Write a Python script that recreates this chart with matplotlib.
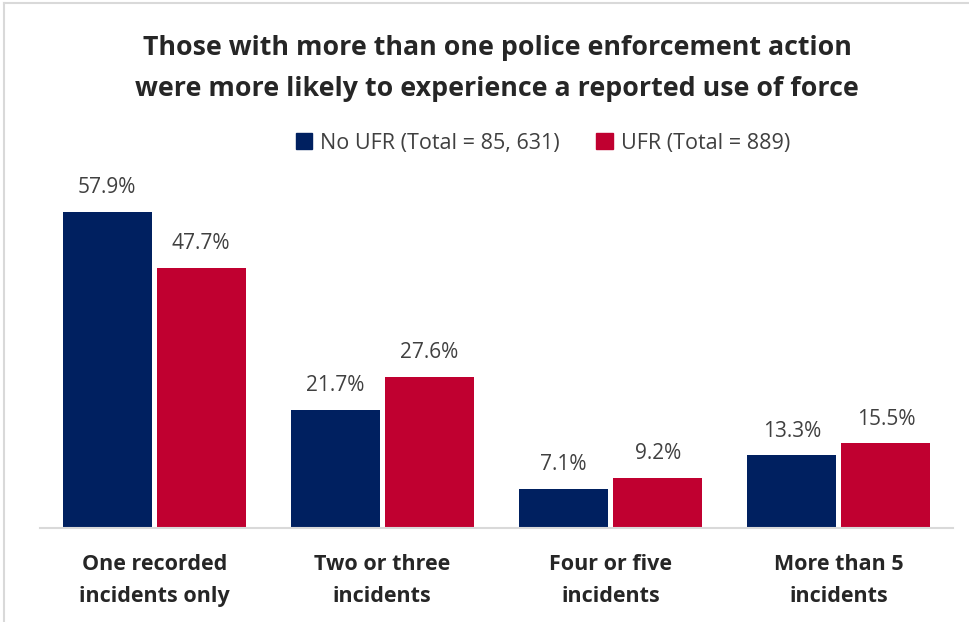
import matplotlib
matplotlib.use("Agg")
import matplotlib.pyplot as plt
import numpy as np
from matplotlib.lines import Line2D
from matplotlib.patches import Patch

categories = ["One recorded\nincidents only", "Two or three\nincidents", "Four or five\nincidents", "More than 5\nincidents"]
no_ufr = [57.9, 21.7, 7.1, 13.3]
ufr = [47.7, 27.6, 9.2, 15.5]
series_names = ["No UFR (Total = 85, 631)", "UFR (Total = 889)"]
title = "Those with more than one police enforcement action\nwere more likely to experience a reported use of force"

navy = "#002060"
red = "#C00030"
gray = "#404040"
font = "Open Sans"

W, H = 969, 622
fig = plt.figure(figsize=(W / 100, H / 100), dpi=100)
fig.patch.set_facecolor("white")

ax_left, ax_right, ax_bottom, ax_top = 40, 953, 528, 170
ax = fig.add_axes([ax_left / W, (H - ax_bottom) / H, (ax_right - ax_left) / W, (ax_bottom - ax_top) / H])
ymax = (ax_bottom - ax_top) / 5.458

x = np.arange(len(categories))
w = 0.39
off = w / 2 + 0.011
b1 = ax.bar(x - off, no_ufr, w, color=navy)
b2 = ax.bar(x + off, ufr, w, color=red)
for bars, vals in ((b1, no_ufr), (b2, ufr)):
    for b, v in zip(bars, vals):
        ax.annotate(f"{v:.1f}%", (b.get_x() + b.get_width() / 2, v), xytext=(0, 10),
                    textcoords="offset points", ha="center", va="bottom",
                    fontsize=15, color=gray, family=font)

ax.set_xlim(-0.5, len(categories) - 0.5)
ax.set_ylim(0, ymax)
ax.set_yticks([])
ax.set_xticks(x)
ax.set_xticklabels(categories, fontsize=15.5, fontweight="bold", color="#262626",
                   family=font, linespacing=1.65)
ax.tick_params(axis="x", length=0, pad=19)
for s in ("top", "right", "left"):
    ax.spines[s].set_visible(False)
ax.spines["bottom"].set_color("#d9d9d9")
ax.spines["bottom"].set_linewidth(1.5)

fig.text(497 / W, 1 - 68.5 / H, title, ha="center", va="center", fontsize=19.3,
         fontweight="bold", color="#262626", family=font, linespacing=1.72)

handles = [Patch(color=navy), Patch(color=red)]
leg = fig.legend(handles, series_names, loc="center", bbox_to_anchor=(543 / W, 1 - 143 / H),
                 ncol=2, frameon=False, handlelength=0.75, handleheight=0.75,
                 handletextpad=0.4, columnspacing=1.7, prop={"family": font, "size": 15.5})
for t in leg.get_texts():
    t.set_color(gray)

# light frame lines at top and left
fig.add_artist(Line2D([4 / W, 1], [1 - 3 / H, 1 - 3 / H], color="#d9d9d9", lw=1.5))
fig.add_artist(Line2D([4 / W, 4 / W], [0, 1 - 3 / H], color="#d9d9d9", lw=1.5))

fig.savefig("out.png", dpi=100, facecolor="white")
